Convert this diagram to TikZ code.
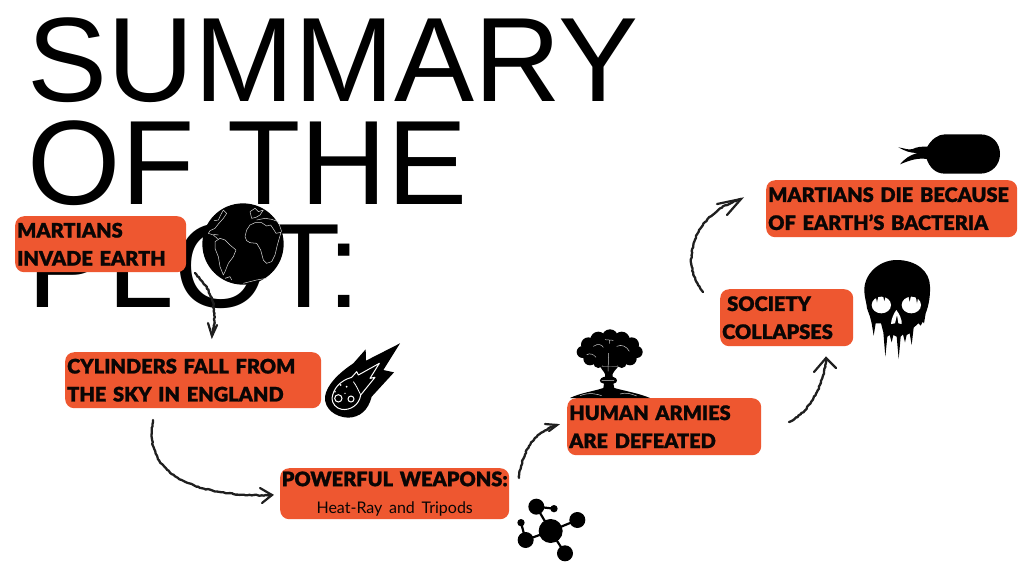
\documentclass[tikz,border=0pt]{standalone}
\usepackage{fontspec}
\usetikzlibrary{decorations.pathmorphing}
\setmainfont{Liberation Sans}
\newfontfamily\boxfont[FakeBold=1.1,WordSpace=0.75]{Lato Black}
\newfontfamily\subfont[WordSpace=0.6]{Lato}
\definecolor{boxorange}{HTML}{EE5730}
\definecolor{ink}{HTML}{0A0605}
\tikzset{
  titletext/.style={anchor=north west,inner sep=0pt,align=left,font=\fontsize{120}{103}\selectfont,text=black},
  plotbox/.style={anchor=north west,fill=boxorange,rounded corners=9pt,inner ysep=0pt,inner xsep=2pt,align=left,
    font=\boxfont\fontsize{20}{28}\selectfont,text=ink},
  chalk/.style={draw=black!88,line width=2.3pt,line cap=round,line join=round,
    decorate,decoration={random steps,segment length=2pt,amplitude=0.6pt}},
  barb/.style={draw=black!88,line width=2.2pt,line cap=round,line join=miter},
  icon/.style={fill=black,draw=none},
  iconline/.style={draw=white!85!black,line width=0.5pt,fill=none,line join=round},
  iconwhite/.style={fill=white,draw=none},
}
\begin{document}
\begin{tikzpicture}[x=1pt,y=-1pt]
\useasboundingbox[fill=white] (0,0) rectangle (1024,574);

\node[titletext] (title) at (27.5,18) {SUMMARY\\OF THE\\PLOT:};

\node[plotbox,text width=167pt,minimum height=56pt] (invade) at (15,216) {MARTIANS\\INVADE EARTH};
\node[plotbox,text width=252pt,minimum height=56pt] (cyl) at (65,352) {CYLINDERS FALL FROM\\THE SKY IN ENGLAND};
\node[plotbox,text width=229pt,inner xsep=0pt,minimum height=51pt,align=center] (weap) at (280,468)
  {\fontsize{20}{24}\selectfont POWERFUL WEAPONS:\\[-1pt]{\subfont\fontsize{16}{20}\selectfont Heat-Ray and Tripods}};
\node[plotbox,text width=190pt,minimum height=57pt] (armies) at (567,398) {HUMAN ARMIES\\ARE DEFEATED};
\node[plotbox,text width=129pt,minimum height=57pt] (society) at (720,289) {\hspace*{5pt}SOCIETY\\COLLAPSES};
\node[plotbox,text width=247pt,minimum height=57pt] (bact) at (766,180) {MARTIANS DIE BECAUSE\\OF EARTH’S BACTERIA};

% connector ends
\coordinate (a1) at (195,273); \coordinate (b1) at (212,336);
\coordinate (a2) at (153,420); \coordinate (b2) at (272,495);
\coordinate (a3) at (519,478); \coordinate (b3) at (557,425);
\coordinate (a4) at (789,422); \coordinate (b4) at (826,358);
\coordinate (a5) at (703,292); \coordinate (b5) at (741,199);

\path[chalk] (a1) .. controls (206,285) and (220,300) .. (b1);
\draw[barb] (208,323) -- (b1) -- (217,325);
\path[chalk] (a2) .. controls (142,480) and (205,497) .. (b2);
\draw[barb] (260,488) -- (b2) -- (262,503);
\path[chalk] (a3) .. controls (522,450) and (535,432) .. (b3);
\draw[barb] (545,424) -- (b3) -- (549,431);
\path[chalk] (a4) .. controls (810,412) and (824,385) .. (b4);
\draw[barb] (814,372) -- (b4) -- (836,368);
\path[chalk] (a5) .. controls (680,265) and (690,215) .. (b5);
\draw[barb] (717,204) -- (b5) -- (727,215);

% globe
\begin{scope}[shift={(200,200)},scale=1/3]
\fill[icon] (129,132) circle (122);
\draw[iconline] (135,110) -- (140,90) -- (150,75) -- (165,68) -- (185,68) -- (200,78) -- (212,75) -- (222,90) -- (228,100) -- (243,97) -- (232,135) -- (225,165) -- (215,185) -- (200,190) -- (190,180) -- (182,150) -- (170,130) -- (150,128) -- (140,122) -- cycle;
\draw[iconline] (150,35) -- (165,25) -- (175,35) -- (190,30) -- (180,45) -- (168,52) -- (155,55) -- cycle;
\draw[iconline] (170,60) -- (195,55) -- (215,58) -- (235,65) -- (245,95);
\draw[iconline] (42,62) -- (55,60) -- (62,45) -- (70,30) -- (80,40) -- (70,55) -- (55,72) -- (45,85) -- (30,92) -- (25,100) -- (40,105) -- (55,118);
\draw[iconline] (45,125) -- (60,115) -- (75,120) -- (90,135) -- (108,150) -- (100,170) -- (85,190) -- (75,215) -- (70,225) -- (60,200) -- (55,170) -- (45,145) -- cycle;
\draw[iconline] (75,235) -- (90,230) -- (95,240);
\draw[iconline] (130,250) -- (170,240) -- (200,235);
\draw[iconline] (40,103) -- (55,105);
\end{scope}

% meteor
\begin{scope}[shift={(320,340)},scale=1/3]
\fill[icon] (15,170) .. controls (20,135) and (55,100) .. (100,70) -- (137,28) -- (138,62) -- (240,10) -- (190,90) -- (222,97)
  -- (155,170) .. controls (145,210) and (120,232) .. (85,233) .. controls (45,232) and (12,205) .. cycle;
\draw[white,line width=1pt,line join=round] (36,175) .. controls (40,145) and (60,122) .. (95,112) -- (110,95) -- (115,105) -- (178,70) -- (150,115) -- (165,112) -- (122,165)
  .. controls (118,195) and (90,212) .. (65,208) .. controls (48,205) and (36,190) .. cycle;
\draw[white,line width=0.8pt] (100,125) .. controls (108,135) and (115,150) .. (122,165);
\draw[white,line width=1pt] (55,175) circle (11) (93,177) circle (9);
\fill[white] (62,135) circle (3) (45,155) circle (2.5) (80,140) circle (3) (75,160) circle (2);
\end{scope}

% molecule
\begin{scope}[shift={(130,400)},scale=1/3]
\draw[black,line width=2.2pt] (1262,393) -- (1219,320) -- (1272,326)
  (1262,393) -- (1342,360) (1262,393) -- (1305,460) (1262,393) -- (1187,420) -- (1173,368);
\fill[icon] (1262,393) circle (36) (1219,320) circle (24) (1272,326) circle (11)
  (1342,360) circle (24) (1305,460) circle (24) (1187,420) circle (24) (1173,368) circle (11);
\end{scope}

% bacterium
\begin{scope}[shift={(890,125)},scale=1/3]
\fill[icon] (165,28) -- (270,28) .. controls (308,28) and (330,55) .. (330,87) .. controls (330,120) and (305,146) .. (270,146)
  -- (165,146) .. controls (135,146) and (118,125) .. (110,102) .. controls (85,98) and (60,105) .. (30,118)
  .. controls (45,100) and (60,90) .. (82,84) .. controls (60,84) and (45,78) .. (25,67)
  .. controls (45,70) and (55,76) .. (68,72) .. controls (80,66) and (95,64) .. (112,65)
  .. controls (125,42) and (145,28) .. (165,28) -- cycle;
\end{scope}

% skull
\begin{scope}[shift={(855,255)},scale=1/3]
\fill[icon] (125,15) .. controls (185,15) and (225,50) .. (225,95) .. controls (226,120) and (222,150) .. (212,175)
  -- (207,205) -- (203,200) -- (197,212) -- (190,205) -- (176,218) -- (170,270) -- (164,235) -- (155,240) -- (150,262)
  -- (144,238) -- (137,245) -- (131,312) -- (125,245) -- (115,240) -- (110,262) -- (104,240) -- (97,245) -- (91,305)
  -- (85,232) -- (78,205) -- (62,205) -- (56,242) -- (50,205) -- (45,185) -- (36,160)
  .. controls (35,145) and (30,135) .. (28,110) .. controls (25,60) and (70,15) .. (125,15) -- cycle;
\fill[iconwhite] (79,150) ellipse (29 and 25) (169,150) ellipse (29 and 25);
\fill[icon] (62,122) -- (70,122) -- (66,142) -- cycle (84,122) -- (92,122) -- (88,138) -- cycle
  (160,122) -- (168,122) -- (164,140) -- cycle (182,122) -- (190,122) -- (186,145) -- cycle;
\fill[iconwhite] (124,165) .. controls (132,175) and (142,195) .. (140,207) -- (130,205) -- (126,180) -- (120,205) -- (108,207) .. controls (108,195) and (116,175) .. cycle;
\end{scope}

% mushroom cloud
\begin{scope}[shift={(570,328)},scale=1/3]
\fill[icon] (120,28) circle (24) (85,35) circle (24) (155,35) circle (24) (55,50) circle (22) (185,50) circle (22)
  (38,72) circle (18) (200,72) circle (18) (60,92) circle (20) (180,92) circle (20) (120,70) ellipse (80 and 45)
  (85,105) circle (15) (155,105) circle (15);
\fill[icon] (90,115) .. controls (98,130) and (108,135) .. (105,146) .. controls (85,150) and (85,165) .. (102,167) -- (100,180)
  .. controls (70,190) and (30,195) .. (0,210) -- (240,210) .. controls (210,197) and (170,190) .. (133,180)
  -- (130,167) .. controls (145,165) and (145,150) .. (128,146) .. controls (125,135) and (135,128) .. (145,115) -- cycle;
\draw[white!80!black,line width=0.5pt] (116,75) -- (114,130) (105,35) -- (130,37) (118,37) -- (118,47)
  (70,55) .. controls (85,45) and (95,50) .. (100,58) (140,55) .. controls (155,48) and (170,55) .. (178,70)
  (50,80) .. controls (60,75) and (70,78) .. (78,88) (95,158) -- (132,158) (30,203) .. controls (60,192) and (80,198) .. (95,203)
  (150,198) .. controls (170,192) and (185,198) .. (200,204);
\end{scope}
\end{tikzpicture}
\end{document}
